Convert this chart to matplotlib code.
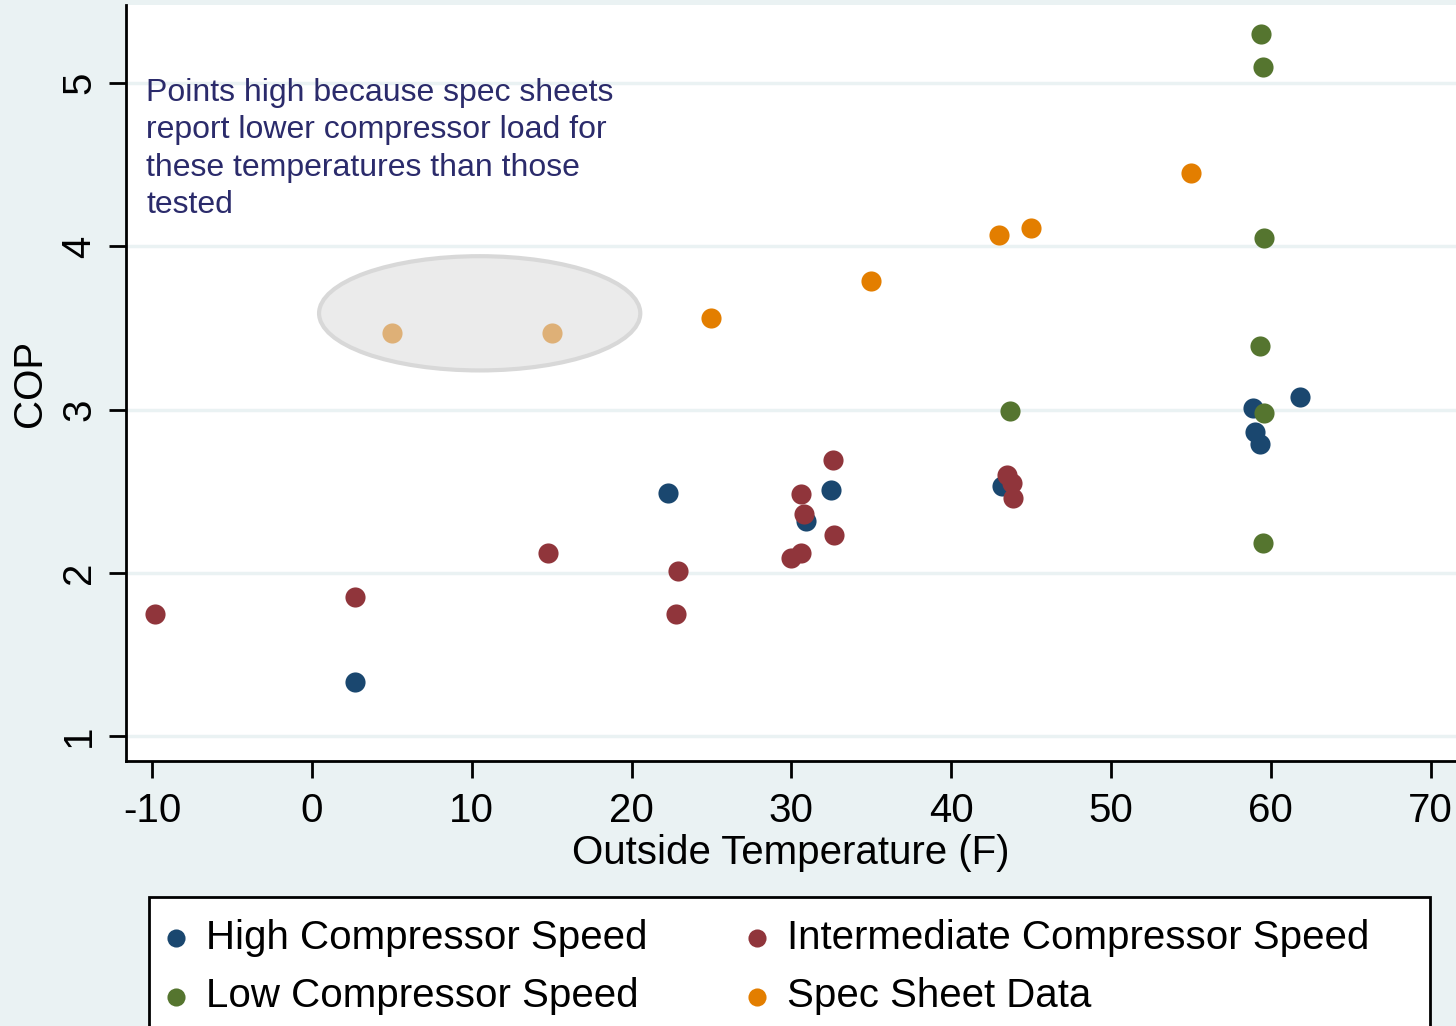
import numpy as np
import matplotlib
matplotlib.use("Agg")
import matplotlib.pyplot as plt
from matplotlib.patches import Ellipse, Rectangle

plt.rcParams['font.family'] = ['Liberation Sans', 'DejaVu Sans']
plt.rcParams['axes.unicode_minus'] = False

# data
high_temp = [2.7, 22.3, 32.5, 30.9, 43.2, 58.9, 59.0, 59.3, 61.8]
high_cop = [1.33, 2.49, 2.51, 2.32, 2.53, 3.01, 2.86, 2.79, 3.08]

inter_temp = [-9.8, 2.7, 14.8, 22.9, 22.8, 32.6, 30.6, 30.8, 32.7, 30.0, 30.6, 43.5, 43.8, 43.9]
inter_cop = [1.75, 1.85, 2.12, 2.01, 1.75, 2.69, 2.48, 2.36, 2.23, 2.09, 2.12, 2.60, 2.55, 2.46]

low_temp = [59.4, 59.5, 59.6, 59.3, 43.7, 59.6, 59.5]
low_cop = [5.30, 5.10, 4.05, 3.39, 2.99, 2.98, 2.18]

spec_temp = [5.0, 15.0, 25.0, 35.0, 43.0, 45.0, 55.0]
spec_cop = [3.47, 3.47, 3.56, 3.79, 4.07, 4.11, 4.45]

note = ("Points high because spec sheets\nreport lower compressor load for\n"
        "these temperatures than those\ntested")

navy = '#1a476f'
maroon = '#90353b'
green = '#55752f'
orange = '#e37e00'
bg = '#eaf2f3'

W, H = 1456, 1026
fig = plt.figure(figsize=(W / 100, H / 100), dpi=100, facecolor=bg)
ax = fig.add_axes([126 / W, 1 - 761 / H, (W - 126) / W, (761 - 5) / H])
ax.set_facecolor('white')

ms = 210
ax.scatter(high_temp, high_cop, s=ms, color=navy, label='High Compressor Speed', zorder=3, linewidths=0)
ax.scatter(inter_temp, inter_cop, s=ms, color=maroon, label='Intermediate Compressor Speed', zorder=3, linewidths=0)
ax.scatter(low_temp, low_cop, s=ms, color=green, label='Low Compressor Speed', zorder=3, linewidths=0)
ax.scatter(spec_temp, spec_cop, s=ms, color=orange, label='Spec Sheet Data', zorder=3, linewidths=0)

ax.add_patch(Ellipse((10.5, 3.59), 20.1, 0.70, facecolor=(0.86, 0.86, 0.86, 0.55),
                     edgecolor='#d8d8d8', linewidth=3, zorder=4))

ax.text(-10.35, 5.03, note, color='#2b2b6b', fontsize=23, va='top', ha='left',
        linespacing=1.31, zorder=5)

ax.set_xlim(-11.63, 71.59)
ax.set_ylim(0.847, 5.479)
ax.set_xticks(range(-10, 71, 10))
ax.set_yticks([1, 2, 3, 4, 5])
ax.yaxis.grid(True, color=bg, linewidth=2.5)
ax.set_axisbelow(True)

for s in ['top', 'right']:
    ax.spines[s].set_visible(False)
for s in ['left', 'bottom']:
    ax.spines[s].set_linewidth(2)
ax.tick_params(axis='both', length=12, width=2, labelsize=29, pad=10)
ax.tick_params(axis='y', labelrotation=90, pad=8)
for lbl in ax.get_yticklabels():
    lbl.set_va('center')

ax.set_xlabel('Outside Temperature (F)', fontsize=29, labelpad=3)
ax.set_ylabel('COP', fontsize=29, labelpad=8)

# legend box (cut off by the bottom edge, as in the original)
fig.patches.append(Rectangle((149 / W, -0.05), (1430 - 149) / W, 1 - 897 / H + 0.05,
                             transform=fig.transFigure, facecolor='white',
                             edgecolor='black', linewidth=2, zorder=0))

handles, labels = ax.get_legend_handles_labels()
order = [0, 2, 1, 3]
leg = fig.legend([handles[i] for i in order], [labels[i] for i in order],
                 loc='upper left', ncol=2,
                 bbox_to_anchor=(160 / W, 1 - 919 / H),
                 fontsize=29, frameon=False,
                 markerscale=0.9, handletextpad=0.35, borderpad=0,
                 labelspacing=0.5, handlelength=0.8, borderaxespad=0,
                 columnspacing=2.3)

fig.savefig('out.png', dpi=100, facecolor=bg)
